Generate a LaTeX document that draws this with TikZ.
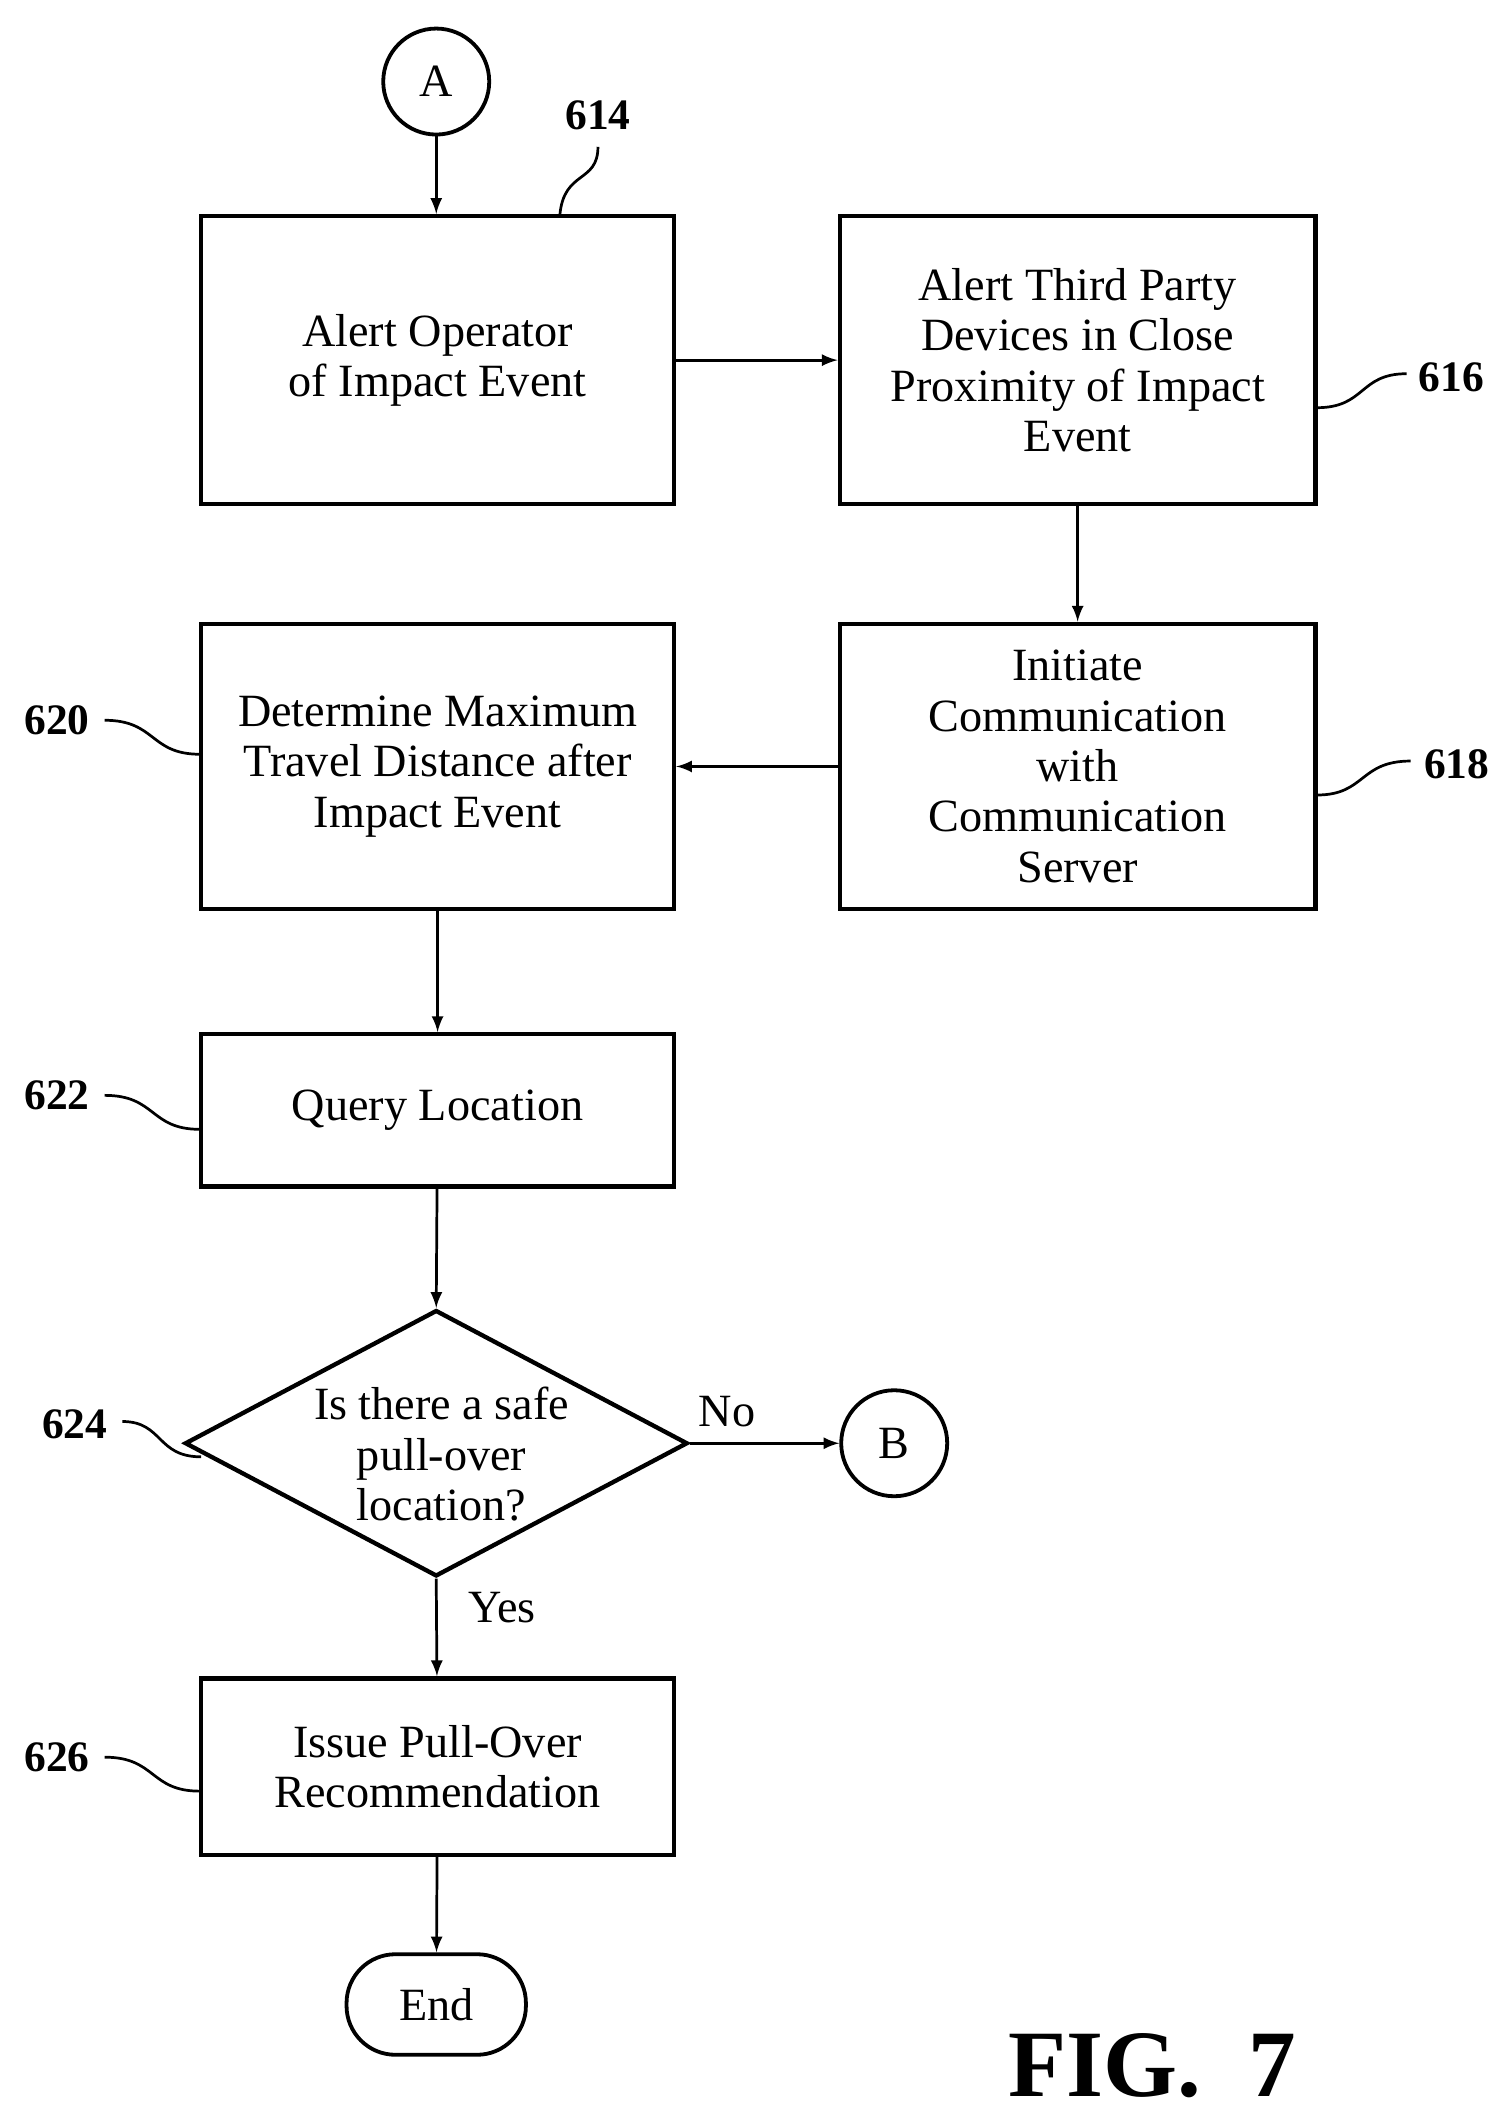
\documentclass[tikz,border=0pt]{standalone}
\usepackage{fontspec}
\setmainfont{Liberation Serif}
\usetikzlibrary{shapes.geometric}
\begin{document}
\begin{tikzpicture}[x=0.5pt,y=-0.5pt,
  box/.style={draw,line width=1.6pt,inner sep=0pt,align=center,font=\fontsize{17}{18.5}\selectfont},
  circ/.style={draw,circle,line width=1.4pt,minimum size=39pt,inner sep=0pt,font=\fontsize{17}{18}\selectfont},
  arr/.style={-latex,line width=1pt},
  lbl/.style={font=\bfseries\fontsize{16}{18}\selectfont},
  sq/.style={line width=1pt}]
\path[use as bounding box] (0,0) rectangle (1110,1560);
\node[circ] (A) at (321,60) {A};
\node[box,minimum width=174pt,minimum height=106pt] (b614) at (322,265) {Alert Operator\\of Impact Event};
\node[box,minimum width=175pt,minimum height=106pt] (b616) at (793,265) {Alert Third Party\\Devices in Close\\Proximity of Impact\\Event};
\node[box,minimum width=175pt,minimum height=105pt] (b618) at (793,564) {Initiate\\Communication\\with\\Communication\\Server};
\node[box,minimum width=174pt,minimum height=105pt] (b620) at (322,564) {Determine Maximum\\Travel Distance after\\Impact Event};
\node[box,minimum width=174pt,minimum height=56pt] (b622) at (322,817) {Query Location};
\node[draw,diamond,line width=1.6pt,minimum width=185pt,minimum height=98pt,inner sep=0pt,aspect=1.9] (d624) at (321,1062) {};
\node[align=center,font=\fontsize{17}{18.5}\selectfont] at (325,1070) {Is there a safe\\pull-over\\location?};
\node[circ] (B) at (658,1062) {B};
\node[box,minimum width=174pt,minimum height=65pt] (b626) at (322,1300) {Issue Pull-Over\\Recommendation};
\node[draw,rounded corners=18pt,line width=1.4pt,minimum width=66pt,minimum height=37pt,font=\fontsize{17}{18}\selectfont] (end) at (321,1475) {End};
\draw[arr] (A) -- (A|-b614.north);
\draw[arr] (b614) -- (b616);
\draw[arr] (b616) -- (b618);
\draw[arr] (b618) -- (b620);
\draw[arr] (b620) -- (b622);
\draw[arr] (b622) -- (d624.north);
\draw[arr] (d624.east) -- node[above,pos=0.25,font=\fontsize{17}{18}\selectfont,yshift=2pt]{No} (B);
\draw[arr] (d624.south) -- node[right,pos=0.3,font=\fontsize{17}{18}\selectfont,xshift=8pt]{Yes} (b626);
\draw[arr] (b626) -- (end);
\node[lbl] (l614) at (440,85) {614};
\node[lbl] (l616) at (1068,278) {616};
\node[lbl] (l618) at (1072,562) {618};
\node[lbl] (l620) at (42,530) {620};
\node[lbl] (l622) at (42,806) {622};
\node[lbl] (l624) at (55,1048) {624};
\node[lbl] (l626) at (42,1293) {626};
\coordinate (c614) at (412,158);
\draw[sq] (c614) .. controls (415,125) and (440,135) .. (440,108);
\draw[sq] (969,300) .. controls (1005,300) and (1000,275) .. (1035,275);
\draw[sq] (969,585) .. controls (1005,585) and (1000,560) .. (1038,560);
\draw[sq] (147,555) .. controls (110,555) and (115,530) .. (77,530);
\draw[sq] (147,831) .. controls (110,831) and (115,806) .. (77,806);
\draw[sq] (148,1072) .. controls (115,1072) and (120,1046) .. (90,1046);
\draw[sq] (147,1318) .. controls (110,1318) and (115,1293) .. (77,1293);
\node[font=\bfseries\fontsize{35}{38}\selectfont] at (848,1520) {FIG.\ \ 7};
\end{tikzpicture}
\end{document}
